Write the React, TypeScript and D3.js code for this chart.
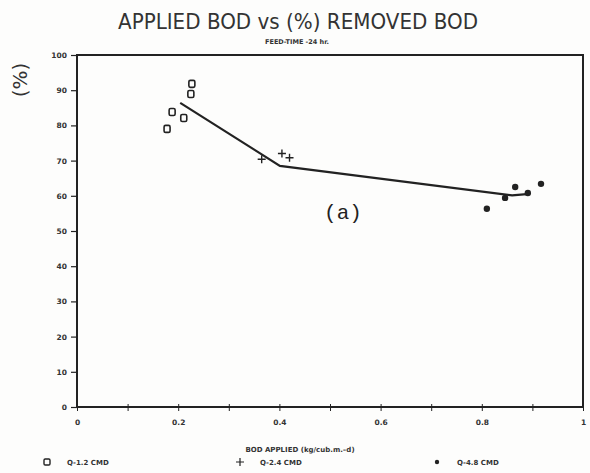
import React, { useEffect, useRef } from "react";
import * as d3 from "d3";

// Q = 1.2 CMD (squares)
const q12X = [0.178, 0.188, 0.211, 0.225, 0.227];
const q12Y = [79.0, 83.8, 82.1, 88.9, 91.8];
// Q = 2.4 CMD (plus)
const q24X = [0.365, 0.405, 0.42];
const q24Y = [70.4, 72.0, 70.8];
// Q = 4.8 CMD (dots)
const q48X = [0.81, 0.846, 0.866, 0.891, 0.917];
const q48Y = [56.3, 59.4, 62.5, 60.8, 63.4];
// fitted line
const fitX = [0.204, 0.401, 0.86, 0.889];
const fitY = [86.4, 68.5, 60.1, 60.5];

const xTicks = [0, 0.1, 0.2, 0.3, 0.4, 0.5, 0.6, 0.7, 0.8, 0.9, 1];
const xLabels = ["0", "", "0.2", "", "0.4", "", "0.6", "", "0.8", "", "1"];
const yTicks = [0, 10, 20, 30, 40, 50, 60, 70, 80, 90, 100];

const legendItems = ["Q-1.2 CMD", "Q-2.4 CMD", "Q-4.8 CMD"];

const App = () => {
    const ref = useRef<SVGSVGElement>(null);

    useEffect(() => {
        const svg = d3.select(ref.current);
        svg.selectAll("*").remove();
        const ink = "#222";
        const left = 77, right = 583, top = 55, bottom = 407;

        const x = d3.scaleLinear().domain([0, 1]).range([left, right]);
        const y = d3.scaleLinear().domain([0, 100]).range([bottom, top]);

        svg.append("rect").attr("width", 590).attr("height", 473).attr("fill", "#fdfdfc");

        // title
        svg.append("text")
            .attr("x", 298).attr("y", 29)
            .attr("text-anchor", "middle")
            .attr("font-family", "DejaVu Sans")
            .attr("font-size", 21)
            .attr("fill", "#333")
            .attr("textLength", 360)
            .attr("lengthAdjust", "spacingAndGlyphs")
            .text("APPLIED BOD vs (%) REMOVED BOD");
        svg.append("text")
            .attr("x", 297).attr("y", 44)
            .attr("text-anchor", "middle")
            .attr("font-family", "DejaVu Sans")
            .attr("font-size", 6.5)
            .attr("font-weight", "bold")
            .attr("fill", "#333")
            .text("FEED-TIME -24 hr.");

        // frame
        svg.append("rect")
            .attr("x", left).attr("y", top)
            .attr("width", right - left).attr("height", bottom - top)
            .attr("fill", "none").attr("stroke", ink).attr("stroke-width", 2);

        // y axis
        const gy = svg.append("g")
            .attr("transform", `translate(${left},0)`)
            .call(d3.axisLeft(y).tickValues(yTicks).tickSize(6).tickPadding(4).tickFormat(d3.format("d")));
        gy.select(".domain").remove();
        gy.selectAll("line").attr("stroke", ink).attr("stroke-width", 1.2);
        gy.selectAll("text").attr("font-family", "DejaVu Sans").attr("font-size", 7.5)
            .attr("font-weight", "bold").attr("fill", "#333");

        // x axis
        const gx = svg.append("g")
            .attr("transform", `translate(0,${bottom})`)
            .call(d3.axisBottom(x).tickValues(xTicks).tickSize(4).tickPadding(9)
                .tickFormat((d, i) => xLabels[i]));
        gx.select(".domain").remove();
        gx.selectAll("line").attr("stroke", ink).attr("stroke-width", 1).attr("y1", -3);
        gx.selectAll("text").attr("font-family", "DejaVu Sans").attr("font-size", 7.5)
            .attr("font-weight", "bold").attr("fill", "#333");

        svg.append("text")
            .attr("x", 300).attr("y", 452)
            .attr("text-anchor", "middle")
            .attr("font-family", "DejaVu Sans")
            .attr("font-size", 7)
            .attr("font-weight", "bold")
            .attr("fill", "#333")
            .text("BOD APPLIED  (kg/cub.m.\u2013d)");

        // y title
        svg.append("text")
            .attr("transform", "translate(27,80) rotate(-90)")
            .attr("text-anchor", "middle")
            .attr("font-family", "DejaVu Sans")
            .attr("font-size", 20)
            .attr("fill", "#333")
            .text("(%)");

        // fitted line
        const line = d3.line<number>().x((d, i) => x(fitX[i])).y((d, i) => y(fitY[i]));
        svg.append("path")
            .attr("d", line(fitX))
            .attr("fill", "none").attr("stroke", ink).attr("stroke-width", 2.2);

        // squares
        svg.selectAll(".sq").data(q12X).enter().append("rect")
            .attr("class", "sq")
            .attr("x", (d) => x(d) - 3).attr("y", (d, i) => y(q12Y[i]) - 3.5)
            .attr("width", 6).attr("height", 7).attr("rx", 1.5)
            .attr("fill", "none").attr("stroke", ink).attr("stroke-width", 1.6);

        // plus
        const plus = d3.symbol().type(d3.symbolCross).size(30);
        svg.selectAll(".pl").data(q24X).enter().append("path")
            .attr("class", "pl")
            .attr("d", (d3.symbol().type({
                draw(ctx, size) {
                    const r = Math.sqrt(size) / 2;
                    ctx.moveTo(-r, 0); ctx.lineTo(r, 0);
                    ctx.moveTo(0, -r); ctx.lineTo(0, r);
                }
            }).size(64))() as string)
            .attr("transform", (d, i) => `translate(${x(d)},${y(q24Y[i])})`)
            .attr("fill", "none").attr("stroke", ink).attr("stroke-width", 1.4);
        void plus;

        // dots
        svg.selectAll(".dt").data(q48X).enter().append("circle")
            .attr("class", "dt")
            .attr("cx", (d) => x(d)).attr("cy", (d, i) => y(q48Y[i]))
            .attr("r", 3.2).attr("fill", ink);

        // (a)
        svg.append("text")
            .attr("x", 343).attr("y", 219)
            .attr("text-anchor", "middle")
            .attr("font-family", "Liberation Mono")
            .attr("font-size", 21)
            .attr("fill", "#222")
            .text("(a)");

        // legend
        const legX = [47, 240, 437];
        const legY = 464;
        svg.append("rect").attr("x", legX[0] - 3).attr("y", legY - 5).attr("width", 6).attr("height", 6)
            .attr("rx", 1.2).attr("fill", "none").attr("stroke", ink).attr("stroke-width", 1.4);
        svg.append("path").attr("d", `M${legX[1] - 4},${legY - 2}H${legX[1] + 4}M${legX[1]},${legY - 6}V${legY + 2}`)
            .attr("stroke", ink).attr("stroke-width", 1.2);
        svg.append("circle").attr("cx", legX[2]).attr("cy", legY - 2).attr("r", 2.2).attr("fill", ink);
        svg.selectAll(".lg").data(legendItems).enter().append("text")
            .attr("class", "lg")
            .attr("x", (d, i) => legX[i] + (i === 2 ? 20 : 20))
            .attr("y", legY + 1)
            .attr("font-family", "DejaVu Sans")
            .attr("font-size", 7)
            .attr("font-weight", "bold")
            .attr("fill", "#333")
            .text((d) => d);
    });

    return (
        <svg ref={ref} width={590} height={473} style={{ position: "absolute", left: 0, top: 0 }} />
    );
};

export default App;
